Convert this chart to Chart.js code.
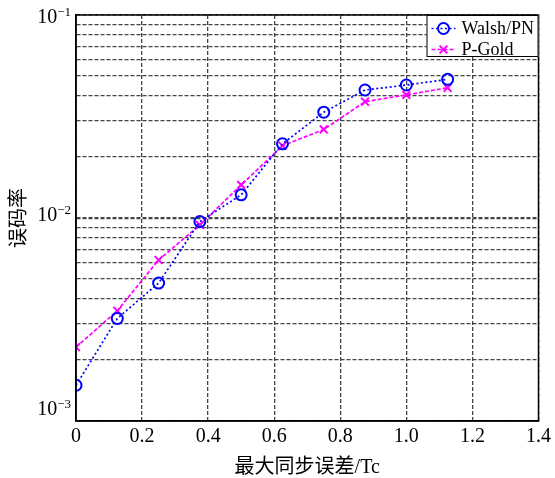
<!DOCTYPE html>
<html lang="zh">
<head>
<meta charset="UTF-8">
<title>误码率</title>
<script src="https://cdn.jsdelivr.net/npm/chart.js@4.4.0/dist/chart.umd.min.js"></script>
<style>
  body { margin: 0; background: #fff; }
  #wrap { width: 555px; height: 478px; }
</style>
</head>
<body>
<div id="wrap"><canvas id="ber" width="555" height="478"></canvas></div>
<script>
// x: 最大同步误差/Tc, y: 误码率
const syncError = [0, 0.125, 0.25, 0.375, 0.5, 0.625, 0.75, 0.875, 1.0, 1.125];
const walshPN = [0.00150, 0.00320, 0.00478, 0.00960, 0.01300, 0.02320, 0.03320, 0.04270, 0.04520, 0.04820];
const pGold   = [0.00231, 0.00349, 0.00621, 0.00924, 0.01455, 0.02270, 0.02730, 0.03740, 0.04040, 0.04380];

const xTicks = [0, 0.2, 0.4, 0.6, 0.8, 1.0, 1.2, 1.4];
const xTickLabels = ['0', '0.2', '0.4', '0.6', '0.8', '1.0', '1.2', '1.4'];
const yDecades = [1e-3, 1e-2, 1e-1];
const yDecadeExp = ['\u22123', '\u22122', '\u22121'];

const serif = '"Liberation Serif", "Times New Roman", serif';
const titleFont = '"Liberation Serif", "Noto Sans CJK SC", serif';

// minor grid lines 1..9 per decade
const yGrid = [];
for (let i = 0; i < yDecades.length - 1; i++) {
    for (let m = 1; m <= 9; m++) yGrid.push(Number((m * yDecades[i]).toPrecision(3)));
}
yGrid.push(yDecades[yDecades.length - 1]);

// frame, 10^n labels and matlab-style legend
const decorations = {
    id: 'decorations',
    afterDraw(chart) {
        const { ctx, chartArea: a, scales: { y } } = chart;
        ctx.save();
        ctx.setLineDash([]);
        ctx.strokeStyle = '#000';
        ctx.lineWidth = 1.5;
        ctx.strokeRect(a.left, a.top, a.right - a.left, a.bottom - a.top);

        ctx.fillStyle = '#000';
        ctx.textAlign = 'left';
        ctx.textBaseline = 'alphabetic';
        yDecades.forEach((v, i) => {
            const py = y.getPixelForValue(v);
            const base = Math.min(Math.max(py + 3, a.top + 8), a.bottom - 6);
            ctx.font = '13px ' + serif;
            const ew = ctx.measureText(yDecadeExp[i]).width;
            ctx.font = '20px ' + serif;
            const bw = ctx.measureText('10').width;
            const right = a.left - 5;
            ctx.fillText('10', right - ew - bw, base);
            ctx.font = '13px ' + serif;
            ctx.fillText(yDecadeExp[i], right - ew, base - 7);
        });

        // legend
        const lw = 112, lh = 42;
        const lx = a.right - lw, ly = a.top;
        ctx.fillStyle = '#fff';
        ctx.fillRect(lx, ly, lw, lh);
        ctx.strokeStyle = '#000';
        ctx.lineWidth = 1;
        ctx.strokeRect(lx + 0.5, ly + 0.5, lw - 1, lh - 1);
        chart.data.datasets.forEach((ds, i) => {
            const cy = ly + 13.5 + i * 21;
            ctx.strokeStyle = ds.borderColor;
            ctx.lineWidth = ds.borderWidth;
            ctx.setLineDash(ds.borderDash);
            ctx.beginPath();
            ctx.moveTo(lx + 5, cy);
            ctx.lineTo(lx + 29, cy);
            ctx.stroke();
            ctx.setLineDash([]);
            ctx.fillStyle = 'rgba(0,0,0,0)';
            ctx.strokeStyle = ds.pointBorderColor;
            ctx.lineWidth = ds.pointBorderWidth;
            Chart.helpers.drawPoint(ctx, {
                pointStyle: ds.pointStyle,
                radius: ds.pointRadius,
                borderWidth: ds.pointBorderWidth,
                rotation: 0
            }, lx + 17, cy);
            ctx.fillStyle = '#000';
            ctx.font = '18px ' + serif;
            ctx.textBaseline = 'middle';
            ctx.fillText(ds.label, lx + 35, cy + 1);
        });
        ctx.restore();
    }
};

const gridDash = {
    display: true,
    color: '#444',
    lineWidth: c => (c.tick && c.tick.value === 0.01 ? 2.2 : 1.3),
    drawTicks: false
};

new Chart(document.getElementById('ber'), {
    type: 'line',
    data: {
        datasets: [{
            label: 'Walsh/PN',
            data: syncError.map((x, i) => ({ x, y: walshPN[i] })),
            borderColor: '#0000ff',
            borderWidth: 1.7,
            borderDash: [2, 2.5],
            pointStyle: 'circle',
            pointRadius: 5.5,
            pointBorderWidth: 2,
            pointBorderColor: '#0000ff',
            pointBackgroundColor: 'rgba(0,0,0,0)',
            tension: 0
        }, {
            label: 'P-Gold',
            data: syncError.map((x, i) => ({ x, y: pGold[i] })),
            borderColor: '#ff00ff',
            borderWidth: 1.7,
            borderDash: [4, 2],
            pointStyle: 'crossRot',
            pointRadius: 5.5,
            pointBorderWidth: 2,
            pointBorderColor: '#ff00ff',
            pointBackgroundColor: 'rgba(0,0,0,0)',
            tension: 0
        }]
    },
    options: {
        responsive: false,
        animation: false,
        layout: { padding: { left: 0, right: 15, top: 15, bottom: 0 } },
        plugins: {
            legend: { display: false },
            tooltip: { enabled: false }
        },
        scales: {
            x: {
                type: 'linear',
                min: 0,
                max: 1.4,
                afterBuildTicks: s => { s.ticks = xTicks.map(v => ({ value: v })); },
                afterFit: s => { s.height = 57; },
                grid: gridDash,
                border: { display: true, color: '#000', width: 1.5, dash: [4, 2] },
                ticks: {
                    color: '#000',
                    font: { family: serif, size: 20 },
                    padding: 4,
                    maxRotation: 0,
                    autoSkip: false,
                    callback: (v, i) => xTickLabels[i]
                },
                title: {
                    display: true,
                    text: '最大同步误差/Tc',
                    color: '#000',
                    font: { family: titleFont, size: 20 },
                    padding: { top: 0, bottom: -2 }
                }
            },
            y: {
                type: 'logarithmic',
                min: 1e-3,
                max: 1e-1,
                afterBuildTicks: s => { s.ticks = yGrid.map(v => ({ value: v })); },
                afterFit: s => { s.width = 76; },
                grid: gridDash,
                border: { display: true, color: '#000', width: 1.5, dash: [4, 2] },
                ticks: { display: false },
                title: {
                    display: true,
                    text: '误码率',
                    color: '#000',
                    font: { family: titleFont, size: 20 },
                    padding: { top: 8, bottom: 0 }
                }
            }
        }
    },
    plugins: [decorations]
});
</script>
</body>
</html>
